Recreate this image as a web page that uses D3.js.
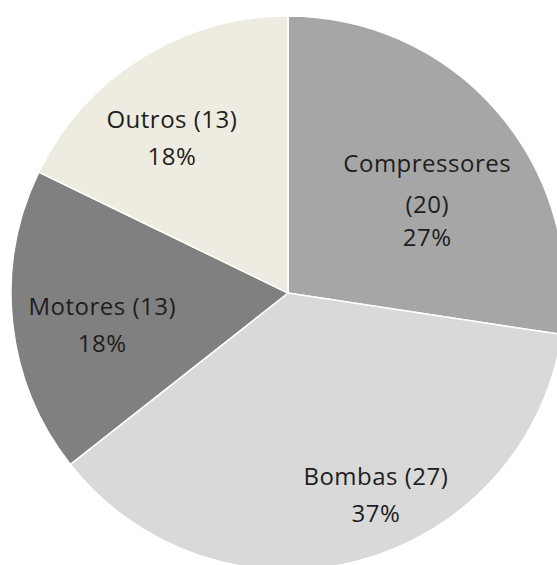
<!DOCTYPE html>
<html>
<head>
<meta charset="utf-8">
<script src="https://cdn.jsdelivr.net/npm/d3@7"></script>
<style>
  html, body { margin: 0; padding: 0; background: #ffffff; overflow: hidden; }
  svg { display: block; }
</style>
</head>
<body>
<svg id="chart" width="557" height="565"></svg>
<script>
// Equipment categories and their counts
const categories = ["Compressores", "Bombas", "Motores", "Outros"];
const counts = [20, 27, 13, 13];
const sliceColors = ["#a6a6a6", "#d9d9d9", "#808080", "#eeece1"];

const width = 557, height = 565;
const cx = 288, cy = 293, radius = 277;

const svg = d3.select("#chart");
const g = svg.append("g").attr("transform", `translate(${cx},${cy})`);

const data = categories.map((c, i) => ({ name: c, value: counts[i], color: sliceColors[i] }));
const total = d3.sum(counts);

const pie = d3.pie().value(d => d.value).sort(null);
const arc = d3.arc().innerRadius(0).outerRadius(radius);

const arcs = pie(data);

g.selectAll("path.slice")
  .data(arcs)
  .join("path")
  .attr("class", "slice")
  .attr("d", arc)
  .attr("fill", d => d.data.color)
  .attr("stroke", "#ffffff")
  .attr("stroke-width", 1.5);

// Label text lines: name and count, then percentage
const pct = d3.format(".0%");
function labelLines(d) {
  const p = pct(d.data.value / total);
  if (d.data.name === "Compressores") {
    return [d.data.name, `(${d.data.value})`, p];
  }
  return [`${d.data.name} (${d.data.value})`, p];
}

// Label placement: along the slice bisector, with small layout nudges
const labelArc = d3.arc().innerRadius(radius * 0.62).outerRadius(radius * 0.62);
const nudge = {
  "Compressores": [9, 20],
  "Bombas": [44, 36],
  "Motores": [-15, 14],
  "Outros": [-25, -9]
};
const lineHeight = 37;
// Vertical offsets of each line relative to the label anchor
function lineOffsets(n) {
  if (n === 3) return [-lineHeight, 4, lineHeight];
  return [-lineHeight / 2, lineHeight / 2];
}

g.selectAll("text.label")
  .data(arcs)
  .join("text")
  .attr("class", "label")
  .attr("text-anchor", "middle")
  .attr("font-family", "'Open Sans', sans-serif")
  .attr("font-size", 24)
  .attr("letter-spacing", 0.5)
  .attr("fill", "#1e1e1e")
  .each(function(d) {
    const [x0, y0] = labelArc.centroid(d);
    const [nx, ny] = nudge[d.data.name];
    const lines = labelLines(d);
    const offs = lineOffsets(lines.length);
    const x = x0 + nx;
    const t = d3.select(this);
    lines.forEach((ln, i) => {
      t.append("tspan")
        .attr("x", x)
        .attr("y", y0 + ny + offs[i])
        .attr("dy", "0.35em")
        .text(ln);
    });
  });
</script>
</body>
</html>
